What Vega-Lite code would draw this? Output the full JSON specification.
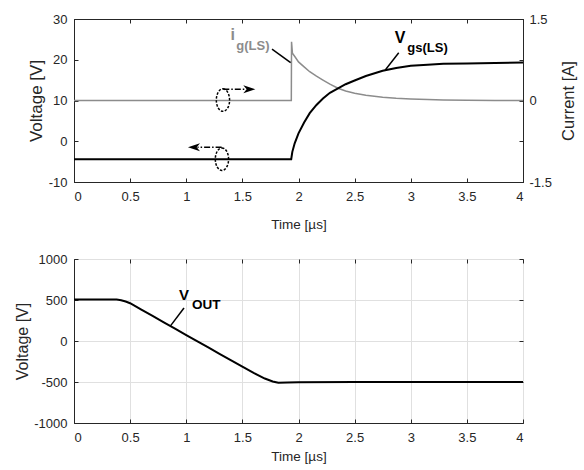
{
  "$schema": "https://vega.github.io/schema/vega-lite/v6.json",
  "padding": {"left": 14, "top": 12, "right": 0, "bottom": 4},
  "config": {
    "font": "Liberation Sans",
    "view": {"stroke": "#262626", "strokeWidth": 1},
    "axis": {
      "domainColor": "#262626",
      "tickColor": "#262626",
      "tickSize": -4,
      "labelColor": "#262626",
      "labelFontSize": 13,
      "labelFont": "Liberation Sans",
      "titleFont": "Liberation Sans",
      "titleColor": "#262626",
      "titleFontWeight": "normal",
      "gridColor": "#e0e0e0",
      "gridWidth": 1,
      "labelExpr": "'' + datum.value"
    },
    "axisX": {"labelPadding": 12, "titleFontSize": 13.5, "titlePadding": 14},
    "axisY": {"labelPadding": 11, "titlePadding": 3}
  },
  "bounds": "flush",
  "spacing": 77,
  "vconcat": [
    {
      "width": 449,
      "height": 163,
      "layer": [
        {
          "data": {"values": [
            {"t": 0, "i": 0}, {"t": 1, "i": 0}, {"t": 1.936, "i": 0}, {"t": 1.938, "i": 1.08},
            {"t": 1.946, "i": 0.87}, {"t": 1.97, "i": 0.8}, {"t": 2.0, "i": 0.71}, {"t": 2.05, "i": 0.62},
            {"t": 2.1, "i": 0.53}, {"t": 2.16, "i": 0.45}, {"t": 2.218, "i": 0.377}, {"t": 2.28, "i": 0.3},
            {"t": 2.352, "i": 0.225}, {"t": 2.42, "i": 0.175}, {"t": 2.5, "i": 0.133}, {"t": 2.6, "i": 0.095},
            {"t": 2.75, "i": 0.059}, {"t": 2.87, "i": 0.04}, {"t": 3.0, "i": 0.028}, {"t": 3.15, "i": 0.018},
            {"t": 3.29, "i": 0.01}, {"t": 3.5, "i": 0.004}, {"t": 3.75, "i": 0}, {"t": 4.0, "i": 0}
          ]},
          "mark": {"type": "line", "color": "#8c8c8c", "strokeWidth": 1.5},
          "encoding": {
            "x": {"field": "t", "type": "quantitative", "scale": {"domain": [0, 4], "nice": false},
                  "axis": {"orient": "top", "labels": false, "title": null, "grid": false, "domain": false,
                           "values": [0, 0.5, 1, 1.5, 2, 2.5, 3, 3.5, 4]}},
            "y": {"field": "i", "type": "quantitative", "scale": {"domain": [-1.5, 1.5], "nice": false, "zero": false},
                  "axis": {"orient": "right", "title": "Current [A]", "titleFontSize": 16.5, "titleAngle": 270,
                           "titleBaseline": "top", "titlePadding": 9, "labelPadding": 10, "grid": false,
                           "values": [-1.5, -0.75, 0, 0.75, 1.5],
                           "labelExpr": "datum.value == 0.75 || datum.value == -0.75 ? '' : '' + datum.value"}}
          }
        },
        {
          "encoding": {
            "x": {"field": "t", "type": "quantitative", "scale": {"domain": [0, 4], "nice": false},
                  "axis": {"title": "Time [µs]", "values": [0, 0.5, 1, 1.5, 2, 2.5, 3, 3.5, 4], "labelExpr": "'' + datum.value"}},
            "y": {"field": "v", "type": "quantitative", "scale": {"domain": [-10, 30], "nice": false, "zero": false},
                  "axis": {"title": "Voltage [V]", "titleFontSize": 17, "values": [-10, 0, 10, 20, 30], "labelExpr": "'' + datum.value"}}
          },
          "layer": [
            {
              "data": {"values": [
                {"t": 0, "v": -4.4}, {"t": 0.5, "v": -4.4}, {"t": 1, "v": -4.4}, {"t": 1.5, "v": -4.4},
                {"t": 1.935, "v": -4.4}, {"t": 1.945, "v": -2.6}, {"t": 1.966, "v": -0.5}, {"t": 2.0, "v": 1.95},
                {"t": 2.05, "v": 4.6}, {"t": 2.1, "v": 6.9}, {"t": 2.16, "v": 8.9}, {"t": 2.218, "v": 10.5},
                {"t": 2.28, "v": 11.9}, {"t": 2.352, "v": 13.0}, {"t": 2.42, "v": 14.0}, {"t": 2.5, "v": 14.9},
                {"t": 2.6, "v": 16.0}, {"t": 2.75, "v": 17.3}, {"t": 2.87, "v": 18.0}, {"t": 3.0, "v": 18.5},
                {"t": 3.15, "v": 18.8}, {"t": 3.29, "v": 19.0}, {"t": 3.5, "v": 19.1}, {"t": 3.75, "v": 19.2},
                {"t": 4.0, "v": 19.3}
              ]},
              "mark": {"type": "line", "color": "black", "strokeWidth": 2}
            },
            {
              "data": {"values": [{"t": 1.327, "v": 10.1}, {"t": 1.318, "v": -4.4}]},
              "mark": {"type": "point", "filled": false, "opacity": 1, "color": "black", "strokeWidth": 1.5,
                       "strokeDash": [2.5, 1.5], "size": 506,
                       "shape": "M 0 -1 C 0.326 -1 0.59 -0.552 0.59 0 C 0.59 0.552 0.326 1 0 1 C -0.326 1 -0.59 0.552 -0.59 0 C -0.59 -0.552 -0.326 -1 0 -1 Z"}
            },
            {
              "data": {"values": [{"t": 1.33, "t2": 1.53, "v": 12.75}, {"t": 1.315, "t2": 1.1, "v": -1.48}]},
              "mark": {"type": "rule", "color": "black", "strokeWidth": 1.5, "strokeDash": [6, 2, 1.5, 2]},
              "encoding": {"x2": {"field": "t2"}}
            },
            {
              "data": {"values": [{"t": 1.562, "v": 12.75}]},
              "mark": {"type": "point", "filled": true, "opacity": 1, "color": "black", "size": 144,
                       "shape": "M 1 0 L -1 -0.67 L -0.45 0 L -1 0.67 Z"}
            },
            {
              "data": {"values": [{"t": 1.069, "v": -1.48}]},
              "mark": {"type": "point", "filled": true, "opacity": 1, "color": "black", "size": 144,
                       "shape": "M -1 0 L 1 -0.67 L 0.45 0 L 1 0.67 Z"}
            },
            {
              "data": {"values": [
                {"t": 1.764, "v": 22.6, "t2": 1.93, "v2": 19.3},
                {"t": 2.893, "v": 21.7, "t2": 2.773, "v2": 17.5}
              ]},
              "mark": {"type": "rule", "color": "black", "strokeWidth": 1.5},
              "encoding": {"x2": {"field": "t2"}, "y2": {"field": "v2"}}
            },
            {
              "data": {"values": [{"t": 1.395, "v": 24.8, "label": "i"}]},
              "mark": {"type": "text", "align": "left", "baseline": "alphabetic", "fontSize": 16, "fontWeight": "bold", "color": "#8c8c8c"},
              "encoding": {"text": {"field": "label"}}
            },
            {
              "data": {"values": [{"t": 1.446, "v": 22.4, "label": "g(LS)"}]},
              "mark": {"type": "text", "align": "left", "baseline": "alphabetic", "fontSize": 13, "fontWeight": "bold", "color": "#8c8c8c"},
              "encoding": {"text": {"field": "label"}}
            },
            {
              "data": {"values": [{"t": 2.857, "v": 24.0, "label": "V"}]},
              "mark": {"type": "text", "align": "left", "baseline": "alphabetic", "fontSize": 16, "fontWeight": "bold", "color": "black"},
              "encoding": {"text": {"field": "label"}}
            },
            {
              "data": {"values": [{"t": 2.969, "v": 22.0, "label": "gs(LS)"}]},
              "mark": {"type": "text", "align": "left", "baseline": "alphabetic", "fontSize": 13, "fontWeight": "bold", "color": "black"},
              "encoding": {"text": {"field": "label"}}
            }
          ]
        }
      ],
      "resolve": {"scale": {"y": "independent"}, "axis": {"x": "independent", "y": "independent"}}
    },
    {
      "width": 449,
      "height": 164,
      "layer": [
        {
          "encoding": {
            "x": {"field": "t", "type": "quantitative", "scale": {"domain": [0, 4], "nice": false},
                  "axis": {"title": "Time [µs]", "titlePadding": 5, "values": [0, 0.5, 1, 1.5, 2, 2.5, 3, 3.5, 4], "labelExpr": "'' + datum.value"}},
            "y": {"field": "v", "type": "quantitative", "scale": {"domain": [-1000, 1000], "nice": false, "zero": false},
                  "axis": {"title": "Voltage [V]", "titleFontSize": 16, "values": [-1000, -500, 0, 500, 1000], "labelExpr": "'' + datum.value"}}
          },
          "layer": [
            {
              "data": {"values": [
                {"t": 0, "v": 505}, {"t": 0.2, "v": 505}, {"t": 0.38, "v": 505}, {"t": 0.42, "v": 497},
                {"t": 0.46, "v": 481}, {"t": 0.5, "v": 461}, {"t": 0.6, "v": 382}, {"t": 0.7, "v": 305},
                {"t": 0.8, "v": 228}, {"t": 0.9, "v": 150}, {"t": 1.0, "v": 73}, {"t": 1.1, "v": -5},
                {"t": 1.2, "v": -82}, {"t": 1.3, "v": -160}, {"t": 1.4, "v": -237}, {"t": 1.5, "v": -313},
                {"t": 1.6, "v": -388}, {"t": 1.7, "v": -458}, {"t": 1.77, "v": -493}, {"t": 1.82, "v": -510},
                {"t": 1.9, "v": -506}, {"t": 2.0, "v": -503}, {"t": 2.5, "v": -501}, {"t": 3.0, "v": -500},
                {"t": 4.0, "v": -500}
              ]},
              "mark": {"type": "line", "color": "black", "strokeWidth": 2}
            },
            {
              "data": {"values": [{"t": 0.98, "v": 402, "t2": 0.861, "v2": 187}]},
              "mark": {"type": "rule", "color": "black", "strokeWidth": 1.5},
              "encoding": {"x2": {"field": "t2"}, "y2": {"field": "v2"}}
            },
            {
              "data": {"values": [{"t": 0.935, "v": 495, "label": "V"}]},
              "mark": {"type": "text", "align": "left", "baseline": "alphabetic", "fontSize": 15, "fontWeight": "bold", "color": "black"},
              "encoding": {"text": {"field": "label"}}
            },
            {
              "data": {"values": [{"t": 1.051, "v": 390, "label": "OUT"}]},
              "mark": {"type": "text", "align": "left", "baseline": "alphabetic", "fontSize": 13.5, "fontWeight": "bold", "color": "black"},
              "encoding": {"text": {"field": "label"}}
            }
          ]
        },
        {
          "data": {"values": [{"t": 0, "v": 0}, {"t": 4, "v": 0}]},
          "mark": {"type": "line", "opacity": 0},
          "encoding": {
            "x": {"field": "t", "type": "quantitative", "scale": {"domain": [0, 4], "nice": false},
                  "axis": {"orient": "top", "labels": false, "title": null, "grid": false, "domain": false,
                           "values": [0, 0.5, 1, 1.5, 2, 2.5, 3, 3.5, 4]}},
            "y": {"field": "v", "type": "quantitative", "scale": {"domain": [-1000, 1000], "nice": false, "zero": false},
                  "axis": {"orient": "right", "labels": false, "title": null, "grid": false, "domain": false,
                           "values": [-1000, -500, 0, 500, 1000]}}
          }
        }
      ],
      "resolve": {"axis": {"x": "independent", "y": "independent"}}
    }
  ]
}
